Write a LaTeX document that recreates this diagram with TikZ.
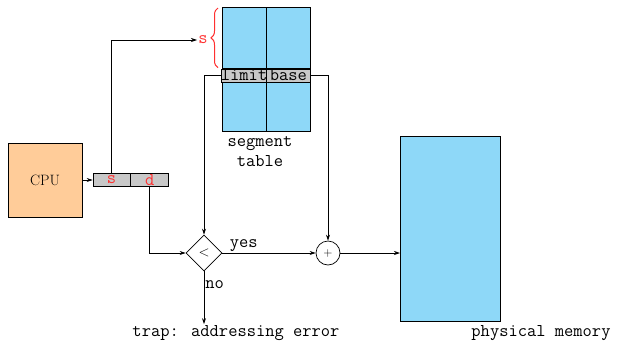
\documentclass[tikz,border=0pt]{standalone}
\usepackage{fontspec}
\usepackage{tikz}
\usetikzlibrary{arrows.meta,positioning,calc,decorations.pathreplacing,shapes.geometric}
\usepackage{xcolor}
\definecolor{segblue}{HTML}{8ED8F8}
\definecolor{cpuorange}{HTML}{FFCC99}
\definecolor{reggray}{HTML}{C8C8C8}
\definecolor{addrred}{HTML}{FF3030}
\newcommand{\monofont}{\fontsize{18}{20}\selectfont\ttfamily}

\begin{document}
\begin{tikzpicture}[x=1pt, y=-1pt, >={Stealth[length=6pt,width=4pt]}, line width=0.7pt,
    cell/.style={draw, fill=segblue, minimum width=43.5pt, inner sep=0pt, anchor=north west},
    entry/.style={draw, fill=reggray, minimum width=43.5pt, minimum height=13pt, inner sep=0pt, font=\monofont},
    reg/.style={draw, fill=reggray, minimum height=13pt, inner sep=0pt, text=addrred, font=\monofont},
    lbl/.style={inner sep=1pt, font=\monofont}]
\useasboundingbox (0,0) rectangle (619,341);

% processor and logical address
\node[draw, fill=cpuorange, minimum size=74pt, inner sep=0pt, font=\fontsize{15}{17}\selectfont] (cpu) at (45,180) {CPU};
\node[reg, minimum width=37pt] (regs) at (111.5,180) {s};
\node[reg, minimum width=38pt, right=0pt of regs] (regd) {d};

% segment table
\node[cell, minimum height=61pt] (segtl) at (222,7) {};
\node[cell, minimum height=61pt, right=0pt of segtl] (segtr) {};
\node[entry, below=0pt of segtl] (limit) {limit};
\node[entry, below=0pt of segtr] (base) {base};
\node[cell, minimum height=49pt, below=0pt of limit] (segbl) {};
\node[cell, minimum height=49pt, below=0pt of base] (segbr) {};
\node[lbl, align=left] (segname) at (260,152) {segment\\\hphantom{s}table};
\node[lbl, text=addrred] (sidx) at (203,40) {s};
\draw[addrred, line width=1pt, decorate, decoration={brace, amplitude=7pt}]
  ($(segtl.south west)+(-4,-1)$) -- ($(segtl.north west)+(-4,1)$);

% check and add
\node[draw, diamond, minimum size=36pt, inner sep=0pt, font=\fontsize{15}{17}\selectfont] (cmp) at (204,253) {$<$};
\node[draw, circle, minimum size=24pt, inner sep=0pt, font=\fontsize{13}{15}\selectfont] (add) at (328,253) {$+$};

% memory
\node[draw, fill=segblue, minimum width=100pt, minimum height=185pt, anchor=north west] (mem) at (400,136) {};
\node[lbl] (trap) at (236,333) {trap: addressing error};
\node[lbl] (phys) at (541,333) {physical memory};

\draw[->] (cpu.east) -- (regs.west);
\draw[->] (regs.north) |- (sidx.west);
\draw[->] (regd.south) |- (cmp.west);
\draw[->] (limit.west) -| (cmp.north);
\draw[->] (base.east) -| (add.north);
\draw[->] (cmp.east) -- (add.west) node[lbl, pos=0.23, above] {yes};
\draw[->] (cmp.south) -- (cmp.south |- trap.north) node[lbl, pos=0.25, right] {no};
\draw[->] (add.east) -- (add.east -| mem.west);
\end{tikzpicture}
\end{document}
